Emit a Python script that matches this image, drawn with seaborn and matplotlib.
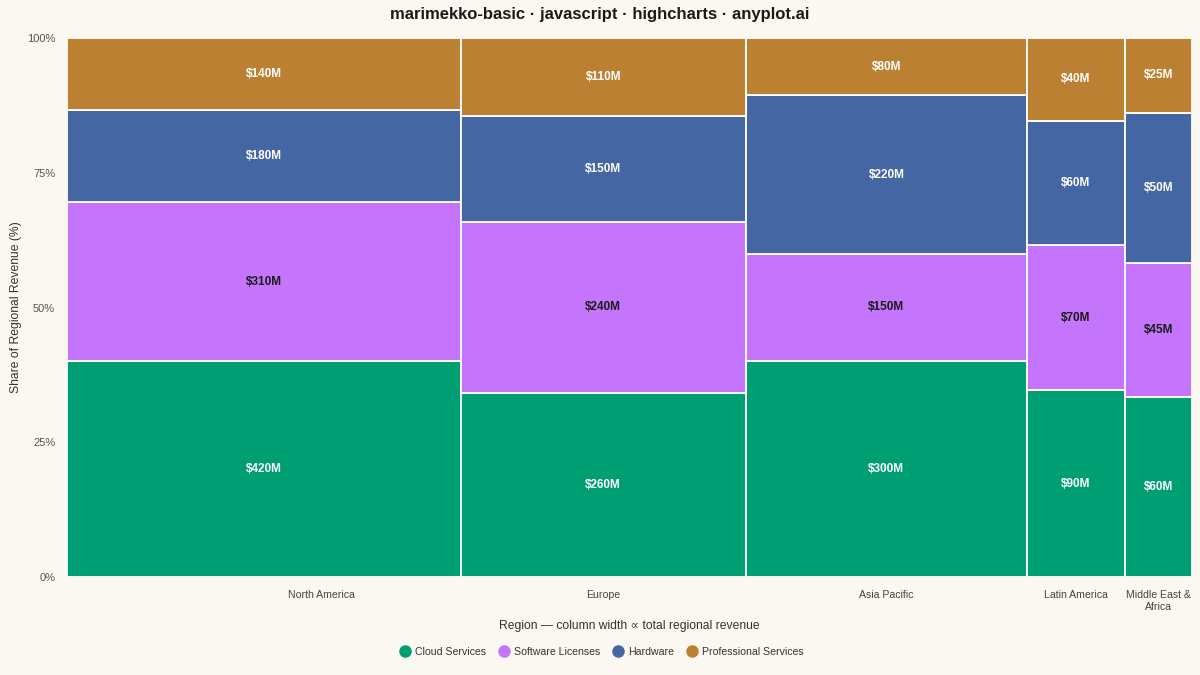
import matplotlib
matplotlib.use("Agg")
import matplotlib.pyplot as plt
from matplotlib.lines import Line2D
import seaborn as sns
import numpy as np

regions = ["North America", "Europe", "Asia Pacific", "Latin America", "Middle East &\nAfrica"]
segments = ["Cloud Services", "Software Licenses", "Hardware", "Professional Services"]
cloud = [420, 260, 300, 90, 60]
software = [310, 240, 150, 70, 45]
hardware = [180, 150, 220, 60, 50]
professional = [140, 110, 80, 40, 25]
colors = ["#009E73", "#C475FC", "#4467A3", "#BC8033"]
label_colors = ["white", "#1a1a1a", "white", "white"]
ytick_labels = ["0%", "25%", "50%", "75%", "100%"]

sns.set_theme(style="white")
plt.rcParams["font.family"] = ["Liberation Sans", "DejaVu Sans"]

bg = "#FAF8F1"
fig = plt.figure(figsize=(12, 6.75), dpi=100, facecolor=bg)
W, H = 1200, 675
ax = fig.add_axes([67 / W, 1 - 577 / H, (1192 - 67) / W, (577 - 38) / H])
ax.set_facecolor(bg)

series = [cloud, software, hardware, professional]
totals = np.array([sum(s[i] for s in series) for i in range(len(regions))], dtype=float)
grand = totals.sum()
lefts = np.concatenate([[0], np.cumsum(totals)[:-1]])

bottoms = np.zeros(len(regions))
for k, s in enumerate(series):
    vals = np.array(s, dtype=float)
    share = vals / totals * 100
    ax.bar(lefts, share, width=totals, bottom=bottoms, align="edge",
           color=colors[k], edgecolor="white", linewidth=1.3, label=segments[k])
    for i in range(len(regions)):
        ax.text(lefts[i] + totals[i] / 2, bottoms[i] + share[i] / 2, f"${s[i]}M",
                ha="center", va="center", fontsize=8.5, fontweight="bold",
                color=label_colors[k])
    bottoms += share

ax.set_xlim(0, grand)
ax.set_ylim(0, 100)
ax.set_yticks([0, 25, 50, 75, 100])
ax.set_yticklabels(ytick_labels, fontsize=8, color="#555555")
ax.tick_params(axis="y", length=0, pad=8.5)
centers = lefts + totals / 2
centers[0] = lefts[0] + totals[0] * 0.645
ax.set_xticks(centers)
ax.set_xticklabels(regions, fontsize=7.6, color="#444444", linespacing=1.25)
ax.tick_params(axis="x", length=0, pad=9)
for sp in ax.spines.values():
    sp.set_visible(False)

fig.text(629.5 / W, 1 - 626 / H, "Region — column width ∝ total regional revenue",
         fontsize=8.7, color="#333333", ha="center", va="center")
fig.text(16 / W, 1 - 307 / H, "Share of Regional Revenue (%)", fontsize=8.7,
         color="#333333", ha="center", va="center", rotation=90)

fig.suptitle("marimekko-basic · javascript · highcharts · anyplot.ai", fontsize=12,
             fontweight="bold", color="#1a1a1a", y=1 - 15 / H, va="center")

handles = [Line2D([0], [0], marker="o", linestyle="", markersize=8,
                  markerfacecolor=c, markeredgecolor=c) for c in colors]
fig.legend(handles, segments, loc="center", bbox_to_anchor=(0.5, 1 - 652 / H),
           ncol=4, frameon=False, fontsize=7.6, handletextpad=0.15, handlelength=1.6,
           columnspacing=0.9, labelcolor="#333333")

fig.savefig("out.png", dpi=100, facecolor=bg)
